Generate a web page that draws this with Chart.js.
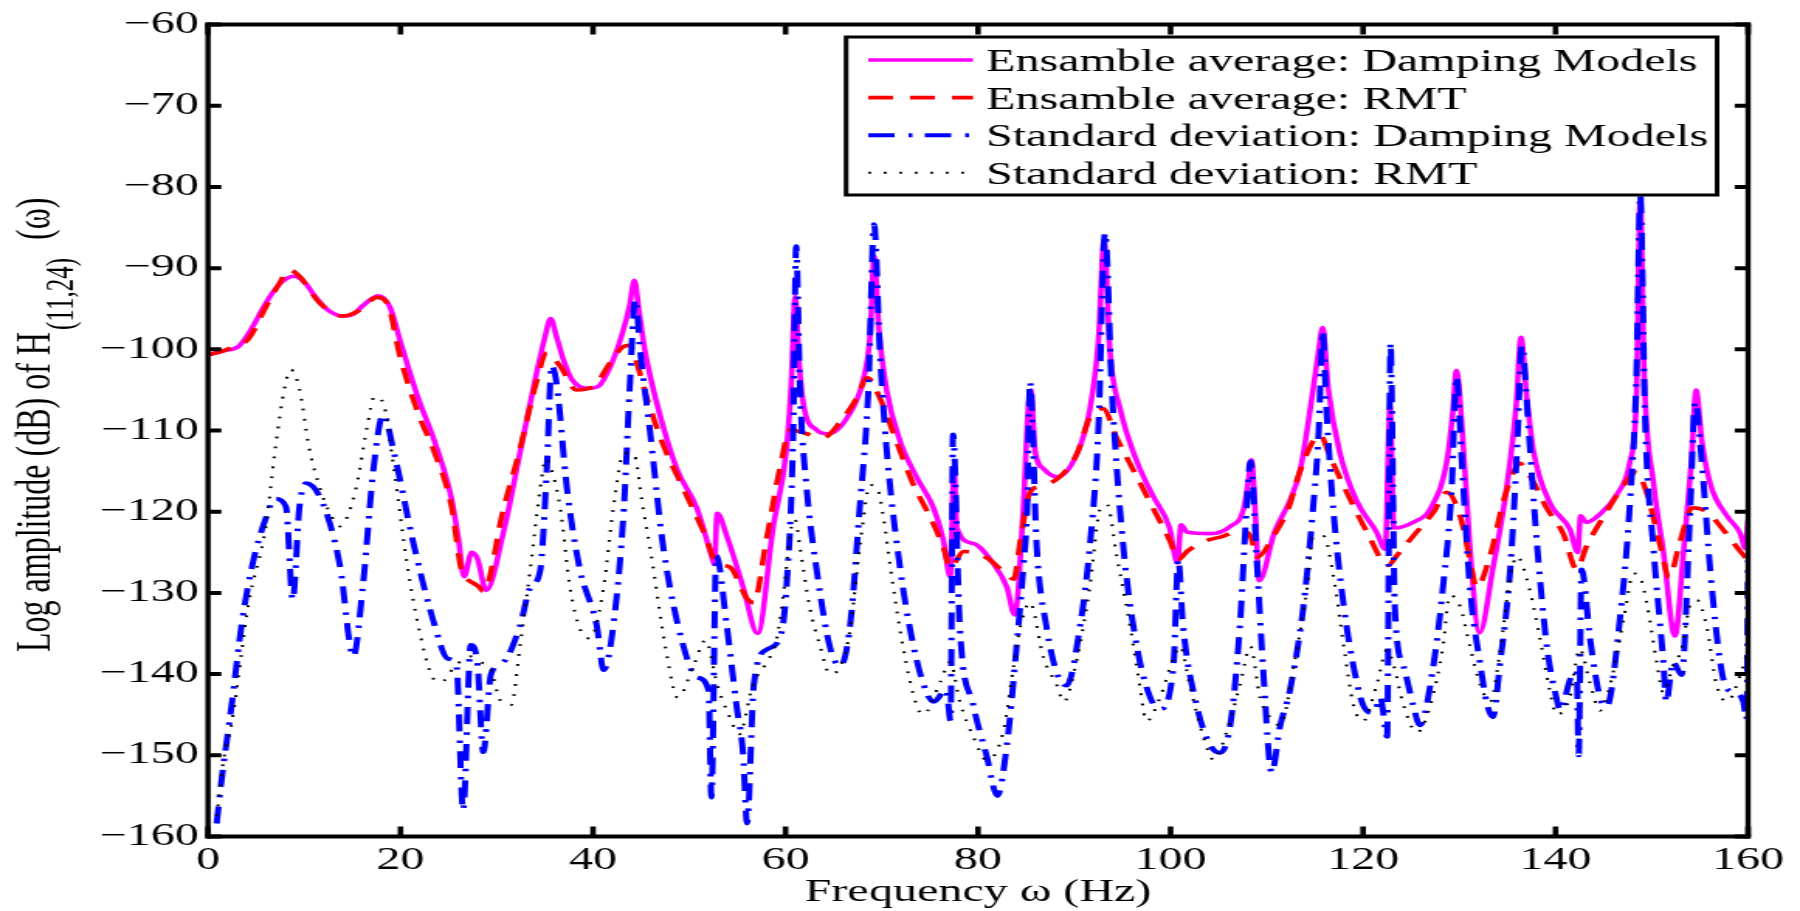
<!DOCTYPE html>
<html>
<head>
<meta charset="utf-8">
<script src="https://cdn.jsdelivr.net/npm/chart.js@4.4.1/dist/chart.umd.min.js"></script>
<style>
html,body{margin:0;padding:0;background:#fff;overflow:hidden;}
canvas{display:block;}
</style>
</head>
<body>
<canvas id="c" width="1161" height="911" style="width:1800px;height:911px;"></canvas>
<script>
// ---------- data (frequency Hz, amplitude dB) ----------
const xTicks = [0, 20, 40, 60, 80, 100, 120, 140, 160];
const yTicks = [-160, -150, -140, -130, -120, -110, -100, -90, -80, -70, -60];

const seriesLabels = [
  'Ensamble average: Damping Models',
  'Ensamble average: RMT',
  'Standard deviation: Damping Models',
  'Standard deviation: RMT'
];

const meanDamping = [[0,-100.7],[1.5,-100.2],[3.2,-99.6],[4.6,-97.3],[6.0,-94.3],[7.5,-91.9],[8.9,-91.0],[10.0,-91.7],[11.2,-93.6],[12.5,-95.2],[14.0,-95.9],[15.2,-95.6],[16.1,-94.6],[17.7,-93.4],[18.9,-94.8],[20.0,-99.1],[21.8,-105.9],[23.5,-111.2],[25.3,-118.4],[26.0,-123.2],[26.6,-128.0],[27.4,-125.0],[28.0,-125.8],[28.9,-129.7],[30.7,-122.5],[32.4,-112.8],[34.1,-103.1],[35.0,-98.5],[35.6,-96.2],[36.2,-98.4],[36.9,-101.2],[37.8,-103.7],[39.5,-104.8],[40.5,-104.6],[41.8,-102.1],[43.0,-98.2],[43.8,-94.6],[44.3,-91.5],[44.8,-95.5],[45.4,-100.2],[46.6,-106.5],[48.7,-114.7],[50.8,-119.6],[52.3,-125.4],[52.6,-126.5],[52.9,-120.2],[53.9,-123.0],[55.6,-129.3],[57.1,-135.0],[58.7,-122.0],[60.1,-112.3],[60.6,-104.0],[61.0,-93.5],[61.4,-101.5],[61.9,-107.0],[63.2,-109.9],[64.4,-110.4],[66.4,-108.4],[68.1,-103.6],[68.8,-98.0],[69.2,-88.5],[69.7,-97.5],[70.5,-105.0],[71.9,-111.3],[73.6,-115.7],[75.4,-119.6],[76.4,-123.5],[77.1,-128.0],[77.5,-114.5],[77.8,-122.0],[79.5,-123.9],[81.6,-126.4],[83.0,-129.3],[83.8,-132.7],[84.7,-119.6],[85.2,-107.5],[85.5,-105.0],[85.9,-112.3],[86.8,-114.7],[88.2,-115.7],[90.3,-112.8],[91.6,-107.5],[92.5,-99.0],[93.1,-86.5],[93.7,-100.2],[94.8,-107.5],[96.5,-113.8],[98.2,-118.1],[99.9,-122.0],[100.7,-126.3],[101.1,-121.6],[101.7,-122.5],[104.1,-122.7],[106.2,-121.8],[107.6,-119.6],[108.1,-116.0],[108.4,-113.6],[108.8,-120.0],[109.2,-128.5],[110.8,-122.5],[112.4,-118.6],[113.5,-114.7],[114.8,-105.0],[115.4,-100.0],[115.8,-97.3],[116.4,-105.0],[117.6,-112.8],[119.3,-118.6],[121.4,-122.5],[122.3,-124.6],[122.8,-107.0],[123.2,-122.0],[125.2,-121.3],[127.0,-119.6],[128.7,-113.8],[129.3,-108.0],[129.7,-102.6],[130.3,-109.9],[131.1,-124.4],[132.1,-134.9],[133.5,-126.9],[134.9,-117.2],[135.9,-107.0],[136.4,-98.5],[137.0,-105.8],[137.7,-112.5],[139.4,-118.9],[141.5,-122.2],[142.3,-125.0],[142.6,-120.5],[143.2,-121.3],[144.6,-120.3],[146.4,-117.8],[147.7,-114.0],[148.4,-106.0],[148.8,-81.5],[149.2,-103.0],[150.2,-116.7],[151.2,-124.9],[152.4,-135.3],[153.3,-124.9],[154.1,-114.0],[154.6,-105.0],[155.2,-111.3],[156.1,-116.7],[157.8,-120.5],[159.2,-122.7],[159.7,-124.5],[160.0,-121.1]];

const meanRMT = [[0,-100.7],[2.0,-100.0],[4.2,-98.7],[6.0,-94.8],[7.4,-91.9],[8.4,-90.2],[9.5,-91.0],[11.6,-94.3],[14.0,-95.9],[16.0,-95.0],[17.5,-93.6],[18.6,-94.3],[20.0,-101.1],[21.8,-107.8],[23.5,-112.6],[25.3,-119.4],[26.3,-127.1],[26.7,-128.0],[28.1,-129.2],[28.6,-129.8],[30.7,-119.6],[32.4,-112.3],[34.1,-104.1],[35.2,-100.4],[36.6,-102.1],[38.3,-105.0],[40.0,-104.6],[41.8,-101.6],[43.0,-99.8],[43.8,-99.5],[44.5,-101.5],[45.6,-106.0],[47.3,-111.8],[49.4,-117.2],[51.5,-122.5],[52.9,-126.4],[54.2,-126.8],[56.0,-130.7],[56.7,-131.2],[58.0,-123.5],[59.4,-114.7],[60.5,-109.9],[62.2,-110.4],[63.9,-110.9],[65.7,-108.9],[67.4,-106.0],[68.5,-103.5],[69.8,-106.0],[71.5,-111.3],[73.3,-116.7],[75.0,-120.6],[76.4,-124.4],[77.1,-126.9],[78.5,-124.9],[79.5,-125.0],[81.2,-125.9],[83.0,-127.8],[83.7,-128.3],[84.4,-123.5],[85.4,-117.6],[86.4,-116.9],[88.5,-115.7],[90.3,-112.8],[91.6,-108.4],[93.0,-107.3],[94.4,-110.9],[96.5,-115.7],[98.2,-119.6],[99.9,-123.5],[100.8,-125.9],[101.7,-124.9],[103.4,-123.7],[105.5,-123.0],[107.2,-122.3],[108.3,-123.0],[109.0,-125.6],[110.7,-123.0],[112.4,-119.1],[113.1,-116.2],[114.8,-111.3],[115.5,-110.5],[116.6,-113.3],[118.3,-117.6],[120.4,-122.5],[122.6,-126.6],[123.5,-125.4],[125.2,-123.0],[127.3,-120.1],[128.7,-117.6],[130.1,-120.6],[131.1,-125.9],[131.8,-129.3],[133.2,-125.4],[134.6,-118.6],[135.6,-115.2],[136.2,-114.0],[137.4,-115.7],[139.1,-119.6],[140.8,-122.7],[142.2,-127.1],[143.2,-124.3],[145.3,-120.0],[147.1,-116.7],[148.4,-115.1],[149.5,-117.8],[150.9,-124.3],[151.8,-128.1],[152.9,-123.8],[154.2,-119.5],[155.7,-120.0],[157.4,-122.2],[159.2,-124.9],[160.0,-126.0]];

const stdDamping = [[0.9,-158.4],[1.4,-153.1],[2.5,-143.4],[3.5,-133.8],[4.6,-126.6],[6.0,-120.8],[7.0,-118.4],[8.1,-119.4],[8.8,-130.8],[9.5,-119.4],[10.2,-116.5],[11.9,-118.9],[13.7,-126.6],[15.1,-137.8],[16.1,-129.0],[17.2,-114.6],[18.2,-108.0],[19.3,-112.6],[21.4,-124.2],[23.5,-133.8],[24.9,-138.1],[25.8,-138.8],[26.5,-156.8],[27.3,-136.4],[28.0,-138.8],[28.6,-149.6],[29.4,-140.0],[30.7,-138.5],[32.4,-134.1],[33.5,-129.3],[34.5,-127.3],[35.2,-114.7],[35.7,-102.0],[36.2,-104.1],[37.3,-117.2],[38.6,-126.9],[40.4,-134.1],[41.1,-139.5],[42.1,-134.1],[43.2,-119.6],[43.8,-105.0],[44.4,-93.8],[44.9,-100.2],[45.9,-109.9],[47.3,-124.4],[49.4,-136.6],[50.8,-140.4],[52.0,-142.0],[52.3,-155.2],[52.8,-125.4],[53.9,-134.1],[54.9,-143.8],[55.6,-150.0],[56.0,-158.4],[56.7,-141.4],[58.0,-137.0],[59.4,-135.6],[60.1,-129.3],[60.8,-109.9],[61.1,-87.3],[61.5,-105.0],[62.2,-117.2],[63.2,-126.9],[64.6,-136.6],[65.7,-139.0],[66.7,-134.1],[67.7,-119.6],[68.6,-105.0],[69.2,-84.6],[69.8,-100.2],[70.5,-112.3],[71.9,-126.9],[73.3,-136.6],[74.7,-142.4],[75.4,-143.4],[76.7,-141.9],[77.15,-145.8],[77.4,-110.5],[78.1,-134.1],[79.5,-143.8],[80.9,-150.1],[82.0,-155.0],[83.0,-148.7],[84.0,-136.6],[84.7,-126.9],[85.1,-119.6],[85.4,-104.0],[86.1,-124.4],[87.1,-134.1],[88.2,-139.9],[89.2,-141.4],[90.6,-134.1],[91.6,-124.4],[92.5,-109.9],[93.2,-85.6],[93.9,-105.0],[95.1,-124.4],[96.5,-136.6],[97.9,-142.9],[98.9,-144.3],[100.3,-139.0],[100.8,-125.9],[101.3,-134.1],[102.7,-143.8],[104.1,-148.7],[105.1,-149.7],[106.2,-146.3],[107.2,-134.1],[107.9,-119.6],[108.3,-113.8],[109.0,-126.9],[109.6,-139.0],[110.5,-152.1],[111.4,-146.3],[112.4,-142.0],[113.8,-131.7],[114.8,-119.6],[115.4,-109.9],[115.8,-97.8],[116.2,-107.5],[116.9,-119.6],[118.0,-131.7],[119.0,-139.0],[120.0,-143.8],[121.1,-144.8],[121.8,-142.9],[122.5,-147.7],[122.85,-99.2],[123.3,-131.7],[124.2,-139.0],[125.2,-143.8],[125.9,-146.3],[127.3,-139.0],[128.3,-129.3],[129.2,-117.2],[129.7,-103.4],[130.3,-114.7],[131.1,-129.3],[132.2,-139.0],[132.9,-143.8],[133.5,-145.3],[134.2,-139.0],[135.3,-126.9],[136.0,-112.3],[136.5,-99.5],[137.2,-109.9],[138.1,-124.4],[139.1,-136.6],[140.1,-143.0],[140.5,-144.5],[141.5,-140.7],[142.2,-139.6],[142.4,-150.0],[142.7,-127.1],[143.6,-135.8],[144.6,-142.8],[145.3,-144.0],[146.7,-133.0],[147.7,-119.4],[148.4,-103.1],[148.8,-81.0],[149.3,-108.6],[150.2,-124.9],[151.2,-138.5],[151.5,-143.4],[152.2,-138.5],[153.1,-140.1],[154.0,-119.4],[154.5,-106.5],[155.2,-114.0],[156.1,-127.6],[157.1,-138.5],[157.8,-141.8],[158.8,-142.3],[159.5,-143.4],[159.85,-145.6],[160.0,-126.0]];

const stdRMT = [[0.9,-157.5],[1.6,-150.7],[2.5,-145.8],[4.2,-131.4],[6.0,-121.8],[7.0,-112.1],[8.0,-104.5],[8.6,-102.5],[9.5,-104.9],[10.5,-112.1],[11.6,-117.0],[12.8,-120.5],[13.7,-121.8],[15.4,-117.0],[16.5,-109.7],[17.3,-105.8],[18.2,-106.6],[19.3,-114.6],[20.7,-126.6],[21.8,-133.8],[23.2,-140.1],[24.2,-141.0],[25.6,-139.1],[26.5,-138.2],[27.2,-137.8],[28.5,-138.6],[29.3,-139.2],[30.4,-143.3],[31.5,-143.8],[32.4,-136.6],[33.5,-126.9],[34.5,-117.2],[35.1,-113.5],[35.6,-114.5],[36.6,-119.6],[37.6,-129.3],[38.7,-134.6],[39.7,-135.6],[41.1,-129.3],[42.1,-119.6],[43.2,-112.8],[44.2,-112.8],[45.2,-119.6],[46.0,-125.0],[47.6,-137.2],[48.8,-142.9],[50.5,-138.8],[51.7,-135.8],[52.9,-141.3],[54.2,-145.3],[55.2,-147.4],[56.6,-141.3],[57.9,-138.8],[59.1,-135.6],[59.9,-129.0],[60.5,-122.5],[61.0,-121.0],[61.5,-124.4],[62.5,-131.7],[63.6,-136.6],[64.6,-140.0],[65.7,-139.0],[66.7,-134.6],[67.7,-124.4],[68.8,-116.7],[69.5,-117.0],[70.2,-120.9],[70.9,-126.9],[72.2,-136.6],[73.6,-143.8],[74.3,-145.0],[76.1,-140.9],[77.1,-138.5],[78.1,-143.4],[79.5,-147.7],[80.9,-150.6],[82.6,-147.2],[83.7,-139.0],[84.4,-134.1],[85.4,-131.2],[86.8,-138.0],[88.2,-141.4],[88.9,-143.4],[90.3,-138.0],[91.6,-129.3],[92.7,-119.6],[93.4,-119.1],[94.4,-125.4],[95.8,-134.1],[96.8,-141.4],[97.5,-145.8],[98.9,-142.9],[100.3,-138.0],[101.0,-136.6],[102.0,-141.4],[103.4,-147.7],[104.5,-150.6],[105.8,-147.2],[107.2,-141.4],[108.3,-136.6],[109.3,-142.9],[110.7,-145.8],[111.4,-146.3],[112.8,-139.0],[114.2,-129.3],[114.8,-123.0],[115.9,-123.0],[116.9,-127.8],[118.0,-136.6],[119.0,-143.8],[120.0,-145.8],[121.4,-141.4],[122.5,-137.0],[123.2,-139.0],[124.2,-143.8],[125.6,-147.2],[127.0,-143.8],[128.3,-136.6],[129.0,-130.3],[130.1,-131.7],[131.1,-136.6],[132.2,-141.4],[133.2,-143.4],[134.2,-137.5],[135.3,-128.0],[136.0,-125.5],[137.0,-128.2],[138.2,-134.5],[139.4,-142.0],[140.1,-145.0],[141.5,-142.8],[142.5,-136.9],[143.6,-141.2],[144.6,-144.5],[145.7,-141.2],[147.1,-133.0],[148.1,-127.6],[148.8,-128.1],[149.5,-131.4],[150.5,-138.5],[151.2,-142.3],[152.2,-139.0],[153.1,-136.9],[154.0,-131.4],[154.7,-130.9],[155.7,-134.1],[156.7,-141.2],[157.8,-143.4],[159.2,-140.1],[160.0,-136.9]];

const xTitle = 'Frequency \u03C9 (Hz)';
const yTitleMain = 'Log amplitude (dB) of H';
const yTitleSub = '(11,24)';
const yTitleEnd = '(\u03C9)';

// ---------- drawing ----------
const FONT = '"Liberation Serif", "Times New Roman", serif';
const toPts = arr => arr.map(p => ({x: p[0], y: p[1]}));

const framePlugin = {
  id: 'frameTicks',
  afterDatasetsDraw(chart) {
    const {ctx, chartArea: a, scales} = chart;
    ctx.save();
    ctx.strokeStyle = '#000';
    ctx.setLineDash([]);
    ctx.lineCap = 'butt';
    ctx.lineWidth = 3.6;
    scales.x.ticks.forEach(t => {
      const px = scales.x.getPixelForValue(t.value);
      ctx.beginPath();
      ctx.moveTo(px, a.bottom); ctx.lineTo(px, a.bottom - 10);
      ctx.moveTo(px, a.top); ctx.lineTo(px, a.top + 10);
      ctx.stroke();
    });
    ctx.lineWidth = 4;
    scales.y.ticks.forEach(t => {
      const py = scales.y.getPixelForValue(t.value);
      ctx.beginPath();
      ctx.moveTo(a.left, py); ctx.lineTo(a.left + 8.6, py);
      ctx.moveTo(a.right, py); ctx.lineTo(a.right - 8.6, py);
      ctx.stroke();
    });
    ctx.lineWidth = 3.4;
    ctx.beginPath();
    ctx.moveTo(a.left, a.top - 2); ctx.lineTo(a.left, a.bottom + 2);
    ctx.moveTo(a.right, a.top - 2); ctx.lineTo(a.right, a.bottom + 2);
    ctx.stroke();
    ctx.lineWidth = 4;
    ctx.beginPath();
    ctx.moveTo(a.left - 1.7, a.top); ctx.lineTo(a.right + 1.7, a.top);
    ctx.moveTo(a.left - 1.7, a.bottom); ctx.lineTo(a.right + 1.7, a.bottom);
    ctx.stroke();
    ctx.restore();
  }
};

const legendPlugin = {
  id: 'boxLegend',
  afterDraw(chart) {
    const ctx = chart.ctx;
    const L = 545.7, T = 37, R = 1107.5, B = 195;
    ctx.save();
    ctx.fillStyle = '#fff';
    ctx.fillRect(L, T, R - L, B - T);
    ctx.strokeStyle = '#000';
    ctx.lineWidth = 3;
    ctx.setLineDash([]);
    ctx.strokeRect(L, T, R - L, B - T);
    chart.data.datasets.forEach((ds, i) => {
      const yb = 71 + i * 37.6;
      const yc = yb - 11;
      ctx.save();
      ctx.strokeStyle = ds.borderColor;
      ctx.lineWidth = ds.borderWidth;
      ctx.lineCap = 'butt';
      ctx.setLineDash(ds.borderDash || []);
      ctx.beginPath();
      ctx.moveTo(560, yc); ctx.lineTo(627.6, yc);
      ctx.stroke();
      ctx.restore();
      ctx.fillStyle = '#000';
      ctx.font = '31px ' + FONT;
      ctx.textAlign = 'left';
      ctx.textBaseline = 'alphabetic';
      ctx.fillText(ds.label, 636, yb);
    });
    ctx.restore();
  }
};

const yTitlePlugin = {
  id: 'yTitle',
  afterDraw(chart) {
    const ctx = chart.ctx;
    ctx.save();
    ctx.fillStyle = '#000';
    ctx.textAlign = 'left';
    ctx.textBaseline = 'alphabetic';
    ctx.translate(32.4, 652);
    ctx.rotate(-Math.PI / 2);
    ctx.font = '32px ' + FONT;
    ctx.fillText(yTitleMain, 0, 0);
    const w1 = Math.max(ctx.measureText(yTitleMain).width + 1, 322);
    ctx.font = '25px ' + FONT;
    ctx.fillText(yTitleSub, w1, 15);
    const w2 = ctx.measureText(yTitleSub).width;
    ctx.font = '32px ' + FONT;
    ctx.fillText(yTitleEnd, Math.max(w1 + w2 + 16, 412), 0);
    ctx.restore();
  }
};

new Chart(document.getElementById('c'), {
  type: 'line',
  data: {
    datasets: [
      {label: seriesLabels[0], data: toPts(meanDamping), borderColor: '#ff00ff', borderWidth: 3.6, borderDash: [], order: 4},
      {label: seriesLabels[1], data: toPts(meanRMT), borderColor: '#ff0000', borderWidth: 3.6, borderDash: [16, 11], order: 3},
      {label: seriesLabels[2], data: toPts(stdDamping), borderColor: '#0000ff', borderWidth: 4, borderDash: [17, 9, 2.5, 8], order: 2},
      {label: seriesLabels[3], data: toPts(stdRMT), borderColor: '#000000', borderWidth: 2.1, borderDash: [1.8, 8.2], order: 1}
    ]
  },
  options: {
    responsive: false,
    animation: false,
    devicePixelRatio: 1,
    layout: {padding: {top: 21.3, right: 33.5, bottom: 0, left: 0}},
    elements: {
      point: {radius: 0, hoverRadius: 0},
      line: {cubicInterpolationMode: 'monotone', fill: false, borderCapStyle: 'butt', borderJoinStyle: 'miter'}
    },
    plugins: {legend: {display: false}, tooltip: {enabled: false}},
    scales: {
      x: {
        type: 'linear', min: 0, max: 160,
        afterBuildTicks: s => { s.ticks = xTicks.map(v => ({value: v})); },
        afterFit: s => { s.height = 74.5; },
        grid: {display: false, drawTicks: false},
        border: {display: false},
        ticks: {padding: 6, color: '#000', font: {family: FONT, size: 31}, maxRotation: 0, autoSkip: false},
        title: {display: true, text: xTitle, color: '#000', font: {family: FONT, size: 31}, padding: {top: 0, bottom: 0}}
      },
      y: {
        type: 'linear', min: -160, max: -60,
        afterBuildTicks: s => { s.ticks = yTicks.map(v => ({value: v})); },
        afterFit: s => { s.width = 134.16; },
        grid: {display: false, drawTicks: false},
        border: {display: false},
        ticks: {padding: 6, color: '#000', font: {family: FONT, size: 31}, autoSkip: false,
          callback: v => (v < 0 ? '\u2212' : '') + Math.abs(v)}
      }
    }
  },
  plugins: [framePlugin, legendPlugin, yTitlePlugin]
});
</script>
</body>
</html>
